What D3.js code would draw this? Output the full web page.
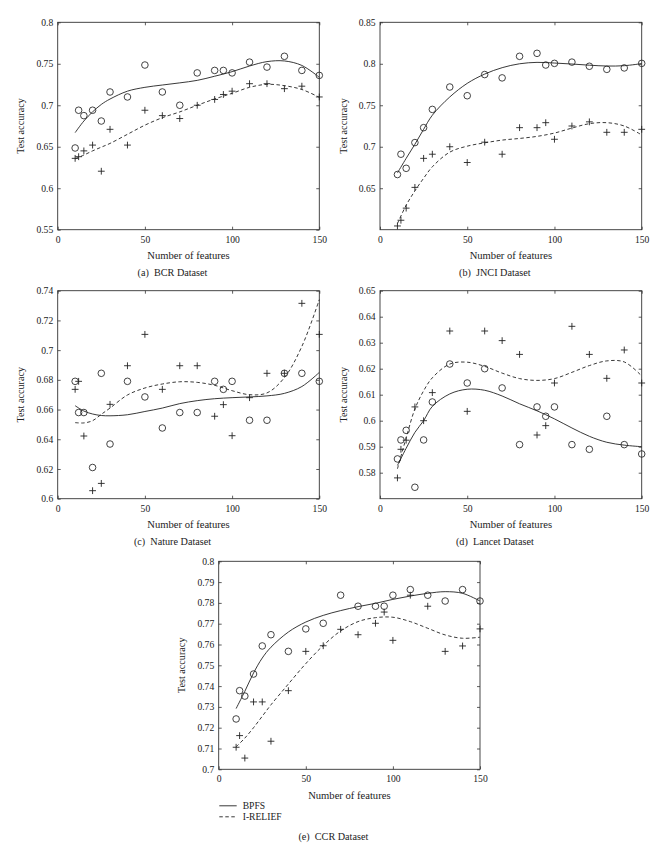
<!DOCTYPE html>
<html><head><meta charset="utf-8">
<script src="https://cdn.jsdelivr.net/npm/d3@7"></script>
<style>body{margin:0;background:#fff}</style>
</head><body><svg id="chart" width="660" height="849"></svg>
<script>
// ---------- data ----------
const features = [10,12,15,20,25,30,40,50,60,70,80,90,95,100,110,120,130,140,150];
const fitX = [10,15,20,25,30,40,50,60,70,80,90,100,110,120,130,140,150];
const xTicks = [0,50,100,150];
const seriesNames = ["BPFS","I-RELIEF"];

// (a) BCR
const bcrBPFS = [0.6485,0.694,0.6875,0.694,0.681,0.716,0.710,0.7485,0.716,0.700,0.739,0.742,0.742,0.739,0.752,0.746,0.759,0.742,0.736];
const bcrIRELIEF = [0.636,0.638,0.645,0.652,0.6205,0.671,0.652,0.694,0.6875,0.684,0.700,0.707,0.713,0.717,0.726,0.726,0.720,0.723,0.710];
const bcrFitBPFS = [0.667,0.681,0.692,0.701,0.7075,0.717,0.7216,0.7244,0.727,0.730,0.735,0.7405,0.7473,0.7526,0.7534,0.748,0.7337];
const bcrFitIRELIEF = [0.6355,0.640,0.645,0.6495,0.654,0.665,0.676,0.685,0.692,0.700,0.7076,0.7144,0.7216,0.7252,0.7236,0.719,0.7096];
const bcrYTicks = [0.55,0.6,0.65,0.7,0.75,0.8];

// (b) JNCI
const jnciBPFS = [0.6665,0.691,0.674,0.705,0.723,0.745,0.772,0.7615,0.787,0.783,0.809,0.8126,0.7985,0.8005,0.802,0.797,0.7933,0.795,0.8005];
const jnciIRELIEF = [0.6045,0.6114,0.626,0.651,0.686,0.691,0.700,0.681,0.7055,0.691,0.723,0.723,0.729,0.709,0.725,0.730,0.7174,0.7174,0.721];
const jnciFitBPFS = [0.6685,0.686,0.703,0.721,0.738,0.760,0.7764,0.7876,0.7953,0.800,0.8017,0.8009,0.7997,0.7983,0.7973,0.7977,0.8002];
const jnciFitIRELIEF = [0.6073,0.6295,0.6468,0.662,0.6758,0.6935,0.7007,0.7047,0.708,0.710,0.7125,0.7165,0.7225,0.7278,0.729,0.725,0.7142];
const jnciYTicks = [0.65,0.7,0.75,0.8,0.85];

// (c) Nature
const natureBPFS = [0.679,0.658,0.658,0.621,0.6844,0.6368,0.679,0.6685,0.6476,0.658,0.658,0.679,0.6736,0.679,0.6528,0.6528,0.6844,0.6844,0.679];
const natureIRELIEF = [0.6736,0.679,0.6422,0.6054,0.6103,0.6635,0.6895,0.7106,0.6736,0.6895,0.6895,0.6555,0.6633,0.6424,0.668,0.6844,0.6844,0.7315,0.7106];
const natureFitBPFS = [0.6626,0.659,0.657,0.656,0.6558,0.6565,0.6587,0.661,0.664,0.666,0.6673,0.668,0.6685,0.6692,0.6709,0.6755,0.685];
const natureFitIRELIEF = [0.6512,0.651,0.6525,0.6568,0.661,0.6698,0.6745,0.6772,0.6787,0.6783,0.6763,0.6727,0.670,0.6712,0.6815,0.7025,0.734];
const natureYTicks = [0.6,0.62,0.64,0.66,0.68,0.7,0.72,0.74];

// (d) Lancet
const lancetBPFS = [0.5853,0.5926,0.5963,0.5744,0.5926,0.6072,0.6218,0.6145,0.620,0.6126,0.5908,0.6053,0.6017,0.6053,0.5908,0.589,0.6017,0.5908,0.5872];
const lancetIRELIEF = [0.578,0.589,0.5925,0.6053,0.600,0.6108,0.6345,0.6036,0.6345,0.6308,0.6255,0.5945,0.5981,0.6145,0.6363,0.6255,0.6163,0.6272,0.6145];
const lancetFitBPFS = [0.5828,0.5894,0.5955,0.600,0.6055,0.6103,0.6121,0.6117,0.6095,0.6065,0.6038,0.6007,0.5972,0.594,0.5917,0.5906,0.590];
const lancetFitIRELIEF = [0.5815,0.5934,0.6045,0.6115,0.6165,0.6218,0.6225,0.6209,0.6183,0.6162,0.6155,0.6162,0.6186,0.6212,0.623,0.6226,0.6172];
const lancetYTicks = [0.58,0.59,0.6,0.61,0.62,0.63,0.64,0.65];

// (e) CCR
const ccrBPFS = [0.7242,0.7378,0.7352,0.7458,0.7593,0.7647,0.7567,0.7675,0.7702,0.7837,0.7784,0.7784,0.7784,0.7837,0.7864,0.7837,0.7809,0.7864,0.7809];
const ccrIRELIEF = [0.7106,0.7162,0.7054,0.7324,0.7324,0.7135,0.7378,0.7567,0.7594,0.7673,0.7647,0.7702,0.7756,0.762,0.7837,0.7784,0.7567,0.7593,0.7675];
const ccrFitBPFS = [0.7292,0.7375,0.7463,0.7535,0.7587,0.766,0.7708,0.774,0.7763,0.7782,0.7798,0.7817,0.7833,0.7846,0.7854,0.7846,0.7809];
const ccrFitIRELIEF = [0.7108,0.715,0.720,0.7255,0.731,0.741,0.7508,0.7595,0.7665,0.771,0.7729,0.7731,0.771,0.7678,0.7646,0.763,0.7635];
const ccrYTicks = [0.7,0.71,0.72,0.73,0.74,0.75,0.76,0.77,0.78,0.79,0.8];

const captions = ["(a)  BCR Dataset","(b)  JNCI Dataset","(c)  Nature Dataset","(d)  Lancet Dataset","(e)  CCR Dataset"];
const xLabel = "Number of features";
const yLabel = "Test accuracy";

// ---------- layout ----------
const panels = [
  {box:[57.7,319.3,22.3,229.7], yDom:[0.55,0.8], yTicks:bcrYTicks, pts:[bcrBPFS,bcrIRELIEF], fits:[bcrFitBPFS,bcrFitIRELIEF], cap:captions[0], capDy:46.5},
  {box:[380,641.7,22.3,229.7], yDom:[0.6,0.85], yTicks:jnciYTicks, pts:[jnciBPFS,jnciIRELIEF], fits:[jnciFitBPFS,jnciFitIRELIEF], cap:captions[1], capDy:46.5},
  {box:[57.7,319.3,290.7,498.7], yDom:[0.6,0.74], yTicks:natureYTicks, pts:[natureBPFS,natureIRELIEF], fits:[natureFitBPFS,natureFitIRELIEF], cap:captions[2], capDy:46.5},
  {box:[380,641.7,290.7,498.7], yDom:[0.57,0.65], yTicks:lancetYTicks, pts:[lancetBPFS,lancetIRELIEF], fits:[lancetFitBPFS,lancetFitIRELIEF], cap:captions[3], capDy:46.5},
  {box:[218.7,480,561.3,769.3], yDom:[0.7,0.8], yTicks:ccrYTicks, pts:[ccrBPFS,ccrIRELIEF], fits:[ccrFitBPFS,ccrFitIRELIEF], cap:captions[4], capDy:71, legend:true}
];

const svg = d3.select("#chart");
const FONT = "'Liberation Serif','Times New Roman',serif";
const INK = "#222";
const fmt = d3.format("~g");
const TL = 3;

panels.forEach(p => {
  const [L,R,T,B] = p.box;
  const x = d3.scaleLinear().domain([0,150]).range([L,R]);
  const y = d3.scaleLinear().domain(p.yDom).range([B,T]);
  const g = svg.append("g");

  // frame
  g.append("rect").attr("x",L).attr("y",T).attr("width",R-L).attr("height",B-T)
    .attr("fill","none").attr("stroke","#333").attr("stroke-width",0.9);

  // axes (inward ticks, all sides)
  const bottom = g.append("g").attr("transform",`translate(0,${B})`)
    .call(d3.axisBottom(x).tickValues(xTicks).tickSize(-TL).tickPadding(6).tickFormat(fmt));
  const top = g.append("g").attr("transform",`translate(0,${T})`)
    .call(d3.axisTop(x).tickValues(xTicks).tickSize(-TL).tickFormat(""));
  const left = g.append("g").attr("transform",`translate(${L},0)`)
    .call(d3.axisLeft(y).tickValues(p.yTicks).tickSize(-TL).tickPadding(4.5).tickFormat(fmt));
  const right = g.append("g").attr("transform",`translate(${R},0)`)
    .call(d3.axisRight(y).tickValues(p.yTicks).tickSize(-TL).tickFormat(""));
  [bottom,top,left,right].forEach(a => {
    a.select(".domain").remove();
    a.selectAll(".tick line").attr("stroke","#333").attr("stroke-width",0.8);
    a.selectAll("text").attr("font-family",FONT).attr("font-size",9.6).attr("fill",INK);
  });

  // fitted curves
  const line = d3.line().x((d,i)=>x(fitX[i])).y(d=>y(d)).curve(d3.curveCatmullRom.alpha(0.5));
  g.append("path").attr("d",line(p.fits[0])).attr("fill","none").attr("stroke",INK).attr("stroke-width",0.9);
  g.append("path").attr("d",line(p.fits[1])).attr("fill","none").attr("stroke",INK).attr("stroke-width",0.9)
    .attr("stroke-dasharray","3.5,2.5");

  // markers
  g.selectAll(".o").data(p.pts[0]).enter().append("circle")
    .attr("cx",(d,i)=>x(features[i])).attr("cy",d=>y(d)).attr("r",3.3)
    .attr("fill","none").attr("stroke",INK).attr("stroke-width",0.85);
  g.selectAll(".p").data(p.pts[1]).enter().append("path")
    .attr("transform",(d,i)=>`translate(${x(features[i])},${y(d)})`)
    .attr("d","M-3.4,0H3.4M0,-3.4V3.4").attr("stroke",INK).attr("stroke-width",0.9).attr("fill","none");

  // labels
  const cx = (L+R)/2;
  g.append("text").attr("x",cx).attr("y",B+29.5).attr("text-anchor","middle")
    .attr("font-family",FONT).attr("font-size",10.6).attr("fill",INK).text(xLabel);
  g.append("text").attr("transform",`translate(${L-33.5},${(T+B)/2}) rotate(-90)`)
    .attr("text-anchor","middle").attr("font-family",FONT).attr("font-size",10.2).attr("fill",INK).text(yLabel);
  g.append("text").attr("x",cx-16).attr("y",B+p.capDy).attr("text-anchor","middle")
    .attr("font-family",FONT).attr("font-size",10.2).attr("fill",INK)
    .style("white-space","pre").text(p.cap);

  if (p.legend) {
    const lx = L, ly = B + 36.5;
    [0,1].forEach(k => {
      const yy = ly + k*11;
      g.append("line").attr("x1",lx+0.6).attr("x2",lx+18).attr("y1",yy).attr("y2",yy)
        .attr("stroke",INK).attr("stroke-width",0.9).attr("stroke-dasharray", k ? "3.5,2.5" : null);
      g.append("text").attr("x",lx+24).attr("y",yy+3.3).attr("font-family",FONT)
        .attr("font-size",9.6).attr("fill",INK).text(seriesNames[k]);
    });
  }
});
</script>
</body></html>
